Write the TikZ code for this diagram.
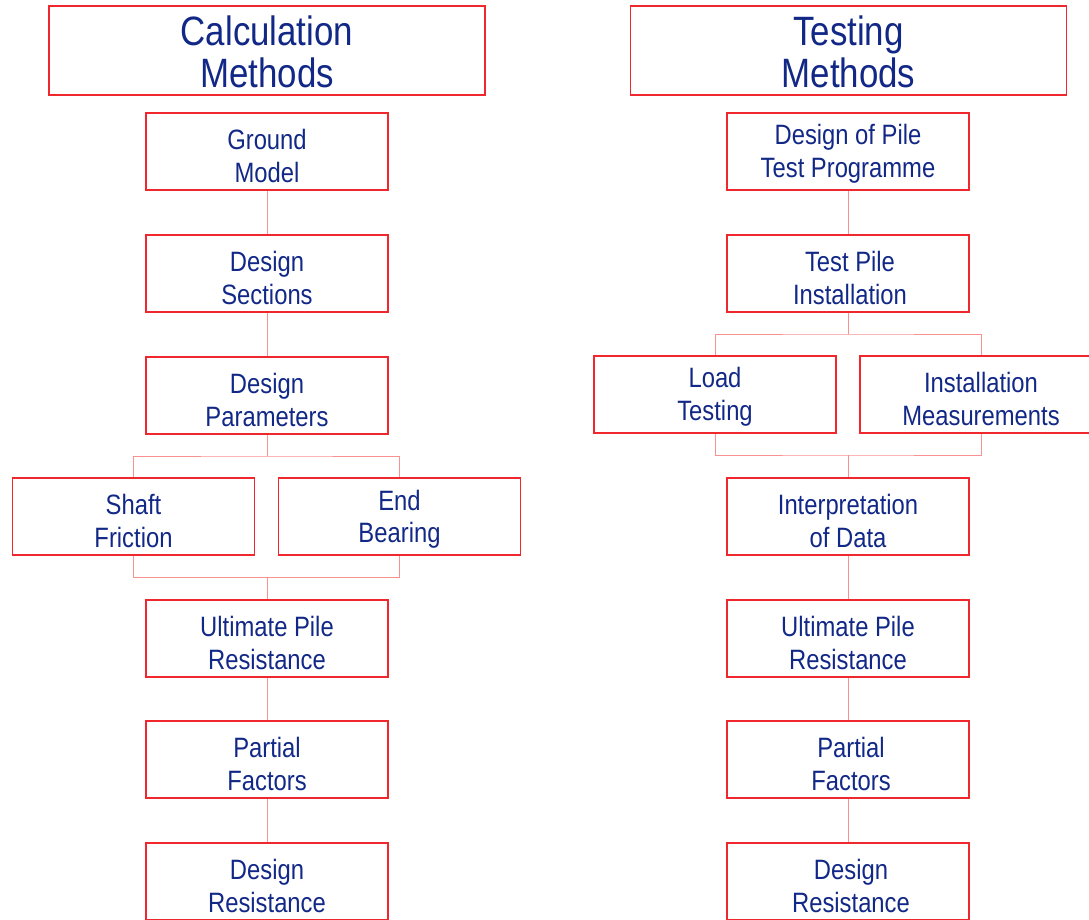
\documentclass[tikz,border=0pt]{standalone}
\usepackage{fontspec}
\setmainfont[FakeStretch=0.85]{Liberation Sans}
\definecolor{boxred}{RGB}{240,40,45}
\definecolor{linkred}{RGB}{250,145,145}
\definecolor{txtblue}{RGB}{18,40,135}
\begin{document}
\begin{tikzpicture}[x=1pt,y=-1pt,
  box/.style={draw=boxred,line width=1.2pt,rectangle,inner sep=0pt,minimum width=242pt,minimum height=77pt},
  titlebox/.style={draw=boxred,line width=1.2pt,rectangle,inner sep=0pt,minimum width=436pt,minimum height=89pt},
  txt/.style={text=txtblue,align=center,inner sep=0pt,font=\fontsize{28}{32.5}\selectfont},
  ttxt/.style={text=txtblue,align=center,inner sep=0pt,font=\fontsize{41}{41.5}\selectfont},
  link/.style={draw=linkred,line width=1pt}]
\useasboundingbox (0,0) rectangle (1089,919);
\clip (0,0) rectangle (1089,919);
% left column
\node[titlebox] (lt) at (267,50.5) {};
\node[ttxt] (ltt) at ([yshift=-1.5pt]lt.center) {Calculation\\Methods};
\node[box] (gm) at (267,151.5) {};
\node[txt] (gmt) at ([yshift=-4.5pt]gm.center) {Ground\\Model};
\node[box] (ds) at (267,273.5) {};
\node[txt] (dst) at ([yshift=-4.5pt]ds.center) {Design\\Sections};
\node[box] (dp) at (267,395.5) {};
\node[txt] (dpt) at ([yshift=-4.5pt]dp.center) {Design\\Parameters};
\node[box] (sf) at (133.5,516.5) {};
\node[txt] (sft) at ([yshift=-4.5pt]sf.center) {Shaft\\Friction};
\node[box] (eb) at (399.5,516.5) {};
\node[txt] (ebt) at ([yshift=-2.5pt]eb.center) {End\\Bearing};
\node[box] (lu) at (267,638.5) {};
\node[txt] (lut) at ([yshift=-4.5pt]lu.center) {Ultimate Pile\\Resistance};
\node[box] (lp) at (267,759.5) {};
\node[txt] (lpt) at ([yshift=-4.5pt]lp.center) {Partial\\Factors};
\node[box] (lr) at (267,881.5) {};
\node[txt] (lrt) at ([yshift=-4.5pt]lr.center) {Design\\Resistance};
\coordinate (la) at (267,456);
\coordinate (lb) at (267,577);
\draw[link] (gm.south) -- (ds.north);
\draw[link] (ds.south) -- (dp.north);
\draw[link] (dp.south) -- (la);
\draw[link] (sf.north) |- (la) -| (eb.north);
\draw[link] (sf.south) |- (lb) -| (eb.south);
\draw[link] (lb) -- (lu.north);
\draw[link] (lu.south) -- (lp.north);
\draw[link] (lp.south) -- (lr.north);
% right column
\node[titlebox] (rt) at (848.5,50.5) {};
\node[ttxt] (rtt) at ([yshift=-1.5pt]rt.center) {Testing\\Methods};
\node[box] (dt) at (848,151.5) {};
\node[txt] (dtt) at ([yshift=-2.5pt]dt.center) {Design of Pile\\Test Programme};
\node[box] (ti) at (848,273.5) {};
\node[txt] (tit) at ([xshift=2pt,yshift=-4.5pt]ti.center) {Test Pile\\Installation};
\node[box] (lo) at (715,394.5) {};
\node[txt] (lot) at ([yshift=-2.5pt]lo.center) {Load\\Testing};
\node[box] (im) at (981,394.5) {};
\node[txt] (imt) at ([yshift=-4.5pt]im.center) {Installation\\Measurements};
\node[box] (id) at (848,516.5) {};
\node[txt] (idt) at ([yshift=-4.5pt]id.center) {Interpretation\\of Data};
\node[box] (ru) at (848,638.5) {};
\node[txt] (rut) at ([yshift=-4.5pt]ru.center) {Ultimate Pile\\Resistance};
\node[box] (rp) at (848,759.5) {};
\node[txt] (rpt) at ([xshift=3pt,yshift=-4.5pt]rp.center) {Partial\\Factors};
\node[box] (rr) at (848,881.5) {};
\node[txt] (rrt) at ([xshift=3pt,yshift=-4.5pt]rr.center) {Design\\Resistance};
\coordinate (ra) at (848,334);
\coordinate (rb) at (848,455);
\draw[link] (dt.south) -- (ti.north);
\draw[link] (ti.south) -- (ra);
\draw[link] (lo.north) |- (ra) -| (im.north);
\draw[link] (lo.south) |- (rb) -| (im.south);
\draw[link] (rb) -- (id.north);
\draw[link] (id.south) -- (ru.north);
\draw[link] (ru.south) -- (rp.north);
\draw[link] (rp.south) -- (rr.north);
\end{tikzpicture}
\end{document}
